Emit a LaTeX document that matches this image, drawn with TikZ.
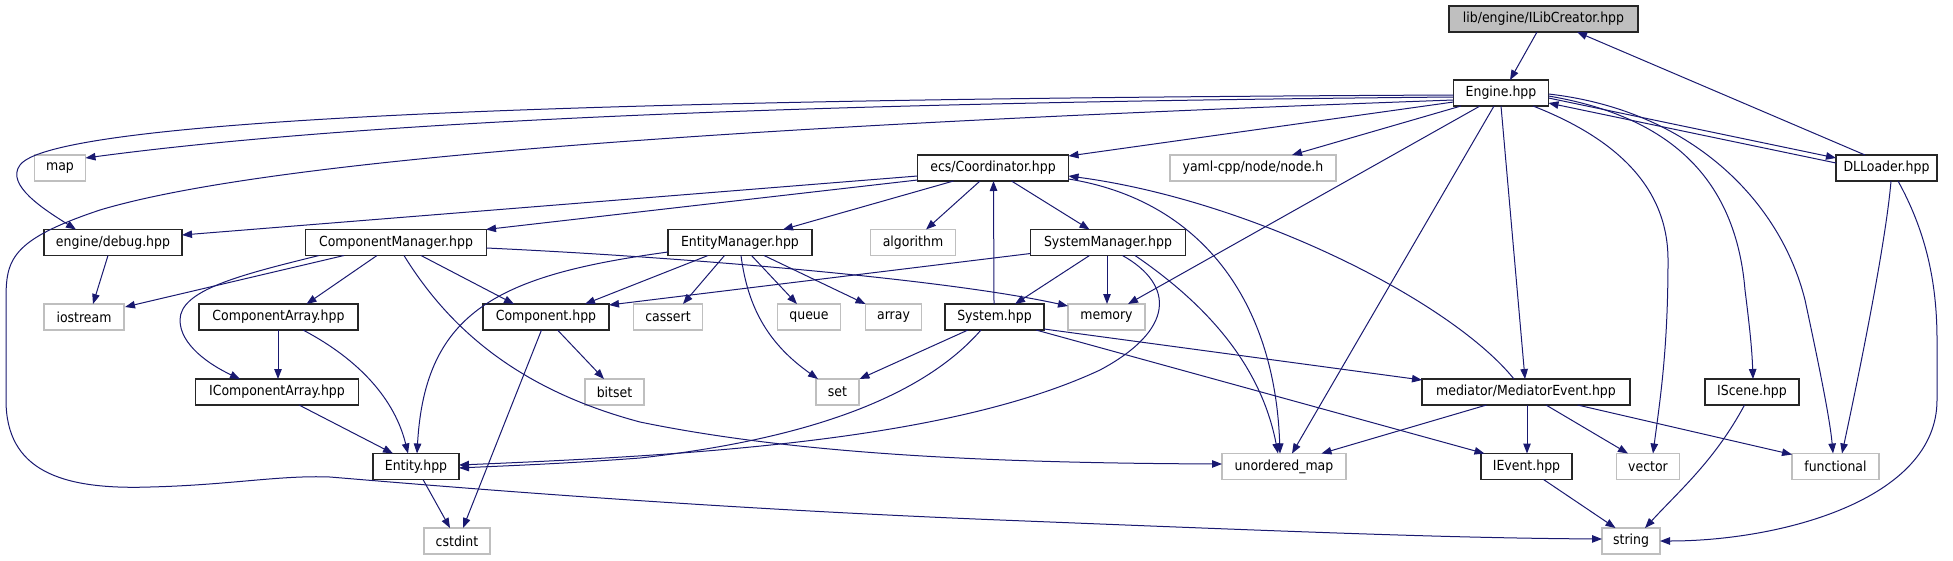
\documentclass[tikz,border=0pt]{standalone}
\usepackage{fontspec}
\setmainfont{DejaVu Sans Condensed}
\usetikzlibrary{arrows.meta,calc}
\definecolor{edgec}{HTML}{191970}
\definecolor{extc}{HTML}{BFBFBF}
\begin{document}
\begin{tikzpicture}[x=1pt,y=-1pt,
  box/.style={rectangle, inner sep=0pt, minimum height=26pt, font=\fontsize{13.9}{15}\selectfont, text=black, fill=white},
  int/.style={box, draw=black!85, line width=1.1pt},
  ext/.style={box, draw=extc, line width=1.1pt},
  cur/.style={box, draw=black!85, line width=1.1pt, fill=extc},
  ln/.style={draw=edgec, line width=1pt, -{Triangle[length=10pt,width=7.5pt]}}]
\useasboundingbox (0,0) rectangle (1953,560);
% nodes
\node[cur, minimum width=189pt] (ilib) at (1543.5,19) {lib/engine/ILibCreator.hpp};
\node[int, minimum width=95pt] (engine) at (1501,93) {Engine.hpp};
\node[ext, minimum width=51pt] (map) at (60,168) {map};
\node[int, minimum width=151pt] (coord) at (993,168) {ecs/Coordinator.hpp};
\node[ext, minimum width=166pt] (yaml) at (1253,168) {yaml-cpp/node/node.h};
\node[int, minimum width=101pt] (dll) at (1886.5,168) {DLLoader.hpp};
\node[int, minimum width=138pt] (debug) at (113,242.5) {engine/debug.hpp};
\node[int, minimum width=181pt] (cm) at (396,242.5) {ComponentManager.hpp};
\node[int, minimum width=144pt] (em) at (740,242.5) {EntityManager.hpp};
\node[ext, minimum width=85pt] (algo) at (913,242.5) {algorithm};
\node[int, minimum width=155pt] (sm) at (1108,242.5) {SystemManager.hpp};
\node[ext, minimum width=80pt] (iostream) at (84,317) {iostream};
\node[int, minimum width=159pt] (carray) at (278.5,317) {ComponentArray.hpp};
\node[int, minimum width=126pt] (comp) at (546,317) {Component.hpp};
\node[ext, minimum width=69pt] (cassert) at (668,317) {cassert};
\node[ext, minimum width=63pt] (queue) at (809,317) {queue};
\node[ext, minimum width=56pt] (array) at (893.5,317) {array};
\node[int, minimum width=99pt] (system) at (994.5,317) {System.hpp};
\node[ext, minimum width=77pt] (memory) at (1106.5,317) {memory};
\node[int, minimum width=163pt] (icarray) at (277,392) {IComponentArray.hpp};
\node[ext, minimum width=59pt] (bitset) at (614.5,392) {bitset};
\node[ext, minimum width=43pt] (set) at (837.5,392) {set};
\node[int, minimum width=208pt] (mediator) at (1526,392) {mediator/MediatorEvent.hpp};
\node[int, minimum width=94pt] (iscene) at (1752,392) {IScene.hpp};
\node[int, minimum width=86pt] (entity) at (416,466.5) {Entity.hpp};
\node[ext, minimum width=124pt] (umap) at (1284,466.5) {unordered\_map};
\node[int, minimum width=91pt] (ievent) at (1526.5,466.5) {IEvent.hpp};
\node[ext, minimum width=63pt] (vector) at (1648,466.5) {vector};
\node[ext, minimum width=87pt] (functional) at (1835.5,466.5) {functional};
\node[ext, minimum width=66pt] (cstdint) at (457,541) {cstdint};
\node[ext, minimum width=58pt] (string) at (1631,541) {string};
% edges
\draw[ln] ($(ilib)+(-6.5,13)$) -- ($(engine)+(9,-13)$);
\draw[ln] ($(dll)+(-21.5,-13)$) -- ($(ilib)+(33.5,13)$);
\draw[ln] ($(engine)+(47.5,5)$) -- ($(dll)+(-50.5,-10)$);
\draw[ln] ($(dll)+(-50.5,-5)$) -- ($(engine)+(47.5,10)$);
\draw[ln] ($(engine)+(-47.5,4)$) .. controls (900,102) and (400,116) .. ($(map)+(25.5,-10)$);
\draw[ln] ($(engine)+(-47.5,2)$) .. controls (800,98) and (60,110) .. (20,165) .. controls (5,185) and (45,210) .. ($(debug)+(-37,-13)$);
\draw[ln] ($(engine)+(-47.5,7)$) .. controls (900,120) and (300,150) .. (100,210) .. controls (10,240) and (6,260) .. (6,300) -- (6,400) .. controls (6,470) and (60,490) .. (150,487) .. controls (230,485) and (280,475) .. (330,477) .. controls (450,487) and (700,508) .. (1000,520) .. controls (1300,532) and (1450,538) .. ($(string)+(-29,-2)$);
\draw[ln] ($(engine)+(-47.5,9)$) -- ($(coord)+(75.5,-12)$);
\draw[ln] ($(engine)+(-40,13)$) -- ($(yaml)+(39,-13)$);
\draw[ln] ($(engine)+(-21,13)$) -- ($(memory)+(21.5,-13)$);
\draw[ln] ($(engine)+(-7,13)$) -- ($(umap)+(8,-13)$);
\draw[ln] ($(engine)+(0,13)$) -- ($(mediator)+(-1,-13)$);
\draw[ln] ($(engine)+(32,13)$) .. controls (1620,140) and (1668,190) .. (1668,260) .. controls (1668,350) and (1660,400) .. ($(vector)+(5,-13)$);
\draw[ln] ($(engine)+(47.5,3)$) .. controls (1660,115) and (1735,170) .. (1745,290) .. controls (1750,330) and (1752,350) .. ($(iscene)+(1,-13)$);
\draw[ln] ($(engine)+(47.5,1)$) .. controls (1690,110) and (1780,200) .. (1805,300) .. controls (1820,370) and (1830,420) .. ($(functional)+(-2.5,-13)$);
\draw[ln] ($(dll)+(4.5,13)$) .. controls (1886,240) and (1862,360) .. ($(functional)+(6.5,-13)$);
\draw[ln] ($(dll)+(11.5,13)$) .. controls (1925,230) and (1937,280) .. (1937,340) -- (1937,400) .. controls (1937,500) and (1780,541) .. ($(string)+(29,0)$);
\draw[ln] ($(coord)+(-75.5,8)$) -- ($(debug)+(69,-7.5)$);
\draw[ln] ($(coord)+(-75.5,12)$) -- ($(cm)+(90,-13)$);
\draw[ln] ($(coord)+(-39.5,13)$) -- ($(em)+(43,-13)$);
\draw[ln] ($(coord)+(-13,13)$) -- ($(algo)+(13,-13)$);
\draw[ln] ($(coord)+(18.5,13)$) -- ($(sm)+(-18.5,-13)$);
\draw[ln] ($(coord)+(75.5,11)$) .. controls (1200,200) and (1275,300) .. ($(umap)+(-4,-13)$);
\draw[ln] ($(system)+(-0.5,-13)$) -- ($(coord)+(0.5,13)$);
\draw[ln] ($(mediator)+(-12,-13)$) .. controls (1450,300) and (1250,200) .. ($(coord)+(75.5,8)$);
\draw[ln] ($(cm)+(-52,13)$) -- ($(iostream)+(41,-10)$);
\draw[ln] ($(cm)+(-77,13)$) .. controls (240,275) and (180,290) .. (180,320) .. controls (180,345) and (210,365) .. ($(icarray)+(-37,-13)$);
\draw[ln] ($(cm)+(-19,13)$) -- ($(carray)+(28,-13)$);
\draw[ln] ($(cm)+(8,13)$) .. controls (450,330) and (520,390) .. (640,422) .. controls (800,455) and (1000,463) .. ($(umap)+(-62,-2.5)$);
\draw[ln] ($(cm)+(25,13)$) -- ($(comp)+(-32,-13)$);
\draw[ln] ($(cm)+(90.5,5.5)$) .. controls (700,258) and (950,280) .. ($(memory)+(-38.5,-11)$);
\draw[ln] ($(debug)+(-5,13)$) -- ($(iostream)+(9,-13)$);
\draw[ln] ($(em)+(-32,13)$) -- ($(comp)+(39,-13)$);
\draw[ln] ($(em)+(-72,9.5)$) .. controls (500,275) and (425,310) .. ($(entity)+(1,-13)$);
\draw[ln] ($(em)+(-15.5,13)$) -- ($(cassert)+(15,-13)$);
\draw[ln] ($(em)+(11.5,13)$) -- ($(queue)+(-12,-13)$);
\draw[ln] ($(em)+(24,13)$) -- ($(array)+(-28,-13)$);
\draw[ln] ($(em)+(1,13)$) .. controls (748,310) and (770,345) .. ($(set)+(-19.5,-13)$);
\draw[ln] ($(sm)+(-77.5,11)$) -- ($(comp)+(63,-12)$);
\draw[ln] ($(sm)+(-18.5,13)$) -- ($(system)+(20.5,-13)$);
\draw[ln] ($(sm)+(-1,13)$) -- ($(memory)+(0.5,-13)$);
\draw[ln] ($(sm)+(27,13)$) .. controls (1200,300) and (1260,360) .. ($(umap)+(-6,-13)$);
\draw[ln] ($(sm)+(14.5,13)$) .. controls (1175,285) and (1175,330) .. (1100,370) .. controls (950,440) and (700,455) .. ($(entity)+(43,-1.5)$);
\draw[ln] ($(system)+(-26.5,13)$) -- ($(set)+(22,-13)$);
\draw[ln] ($(system)+(-13.5,13)$) .. controls (920,400) and (800,440) .. (640,458) .. controls (560,464) and (500,466) .. ($(entity)+(43,1.5)$);
\draw[ln] ($(system)+(49.5,12)$) -- ($(mediator)+(-104,-12)$);
\draw[ln] ($(system)+(41.5,13)$) -- ($(ievent)+(-42,-13)$);
\draw[ln] ($(carray)+(-0.5,13)$) -- ($(icarray)+(1,-13)$);
\draw[ln] ($(carray)+(24.5,13)$) .. controls (360,360) and (395,400) .. ($(entity)+(-8,-13)$);
\draw[ln] ($(icarray)+(22,13)$) -- ($(entity)+(-23,-13)$);
\draw[ln] ($(entity)+(7,13)$) -- ($(cstdint)+(-7,-13)$);
\draw[ln] ($(comp)+(-4.5,13)$) -- ($(cstdint)+(6,-13)$);
\draw[ln] ($(comp)+(11.5,13)$) -- ($(bitset)+(-10.5,-13)$);
\draw[ln] ($(mediator)+(-39.5,13)$) -- ($(umap)+(37.5,-13)$);
\draw[ln] ($(mediator)+(1,13)$) -- ($(ievent)+(0.5,-13)$);
\draw[ln] ($(mediator)+(20,13)$) -- ($(vector)+(-20,-13)$);
\draw[ln] ($(mediator)+(51.5,13)$) -- ($(functional)+(-43.5,-12)$);
\draw[ln] ($(ievent)+(17,13)$) -- ($(string)+(-15.5,-13)$);
\draw[ln] ($(iscene)+(-7.5,13)$) .. controls (1715,460) and (1680,490) .. ($(string)+(14,-13)$);
\end{tikzpicture}
\end{document}
